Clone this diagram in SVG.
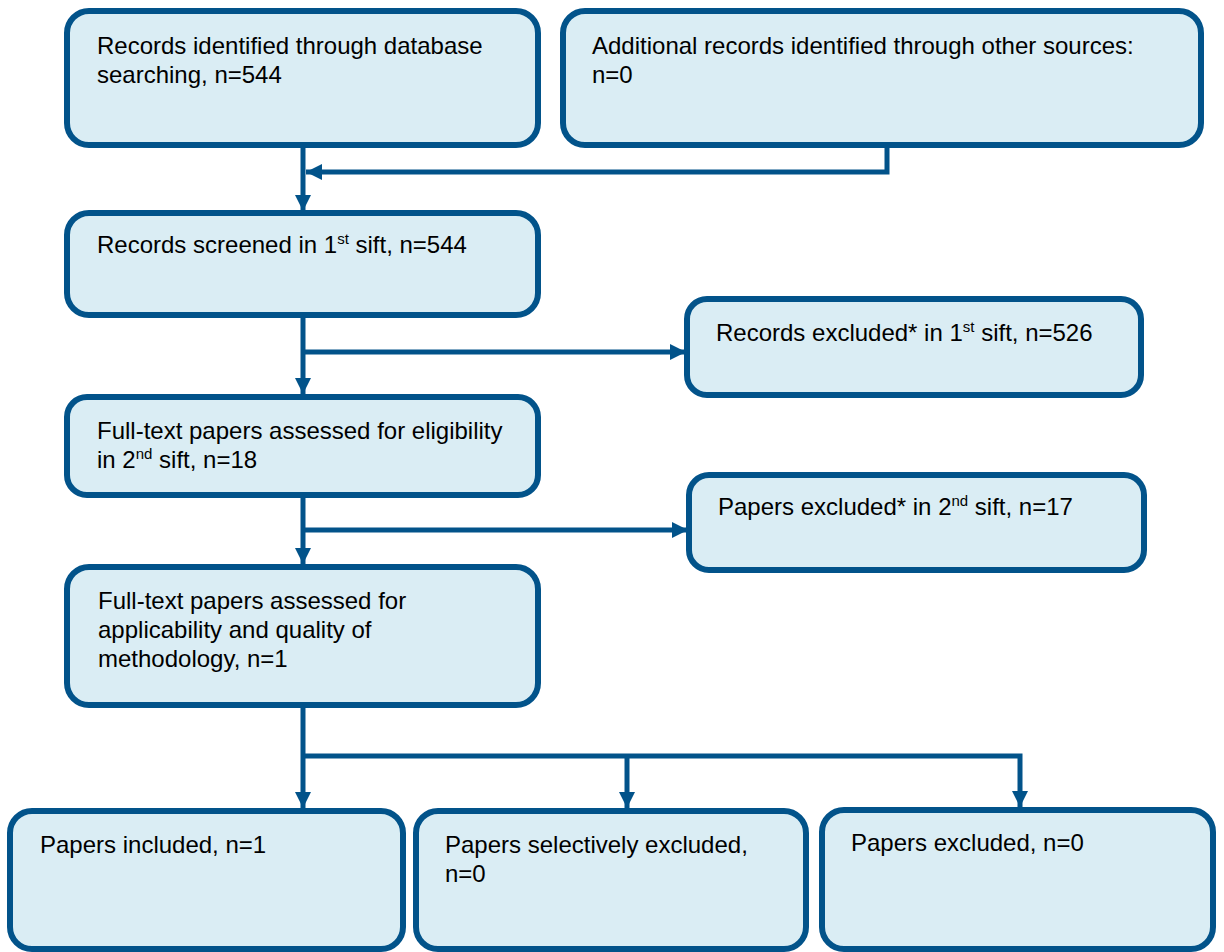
<svg xmlns="http://www.w3.org/2000/svg" width="1224" height="952" viewBox="0 0 1224 952">
<style>
.box{fill:#DAEDF4;stroke:#02538A;stroke-width:6}
.t{font-family:"Liberation Sans",Arial,sans-serif;font-size:24px;fill:#000}
.sup{font-size:15px}
.c{fill:none;stroke:#02538A;stroke-width:5}
</style>
<defs>
<marker id="ah" markerUnits="userSpaceOnUse" markerWidth="18" markerHeight="18" refX="16" refY="9" orient="auto">
<path d="M0,1 L16,9 L0,17 Z" fill="#02538A"/>
</marker>
</defs>
<rect width="1224" height="952" fill="#fff"/>
<g id="connectors">
<path class="c" d="M303,146 V211" marker-end="url(#ah)"/>
<path class="c" d="M887,146 V172 H306" marker-end="url(#ah)"/>
<path class="c" d="M303,316 V394" marker-end="url(#ah)"/>
<path class="c" d="M303,352 H686" marker-end="url(#ah)"/>
<path class="c" d="M303,496 V564" marker-end="url(#ah)"/>
<path class="c" d="M303,530 H688" marker-end="url(#ah)"/>
<path class="c" d="M303,706 V808" marker-end="url(#ah)"/>
<path class="c" d="M303,756 H1020 V807" marker-end="url(#ah)"/>
<path class="c" d="M627,756 V808" marker-end="url(#ah)"/>
</g>
<g id="n1">
<rect class="box" x="67" y="11" width="471" height="134" rx="22"/>
<text class="t" x="97" y="54">Records identified through database</text>
<text class="t" x="97" y="83">searching, n=544</text>
</g>
<g id="n2">
<rect class="box" x="563" y="11" width="638" height="134" rx="22"/>
<text class="t" x="592" y="54">Additional records identified through other sources:</text>
<text class="t" x="592" y="83">n=0</text>
</g>
<g id="n3">
<rect class="box" x="67" y="213" width="471" height="102" rx="22"/>
<text class="t" x="97" y="253">Records screened in 1<tspan class="sup" dy="-9">st</tspan><tspan dy="9"> sift, n=544</tspan></text>
</g>
<g id="n4">
<rect class="box" x="687" y="299" width="454" height="96" rx="20"/>
<text class="t" x="716" y="341">Records excluded* in 1<tspan class="sup" dy="-9">st</tspan><tspan dy="9"> sift, n=526</tspan></text>
</g>
<g id="n5">
<rect class="box" x="67" y="397" width="471" height="98" rx="20"/>
<text class="t" x="97" y="439">Full-text papers assessed for eligibility</text>
<text class="t" x="97" y="468">in 2<tspan class="sup" dy="-9">nd</tspan><tspan dy="9"> sift, n=18</tspan></text>
</g>
<g id="n6">
<rect class="box" x="689" y="475" width="455" height="95" rx="20"/>
<text class="t" x="718" y="515">Papers excluded* in 2<tspan class="sup" dy="-9">nd</tspan><tspan dy="9"> sift, n=17</tspan></text>
</g>
<g id="n7">
<rect class="box" x="67" y="567" width="471" height="138" rx="22"/>
<text class="t" x="98" y="609">Full-text papers assessed for</text>
<text class="t" x="98" y="638">applicability and quality of</text>
<text class="t" x="98" y="667">methodology, n=1</text>
</g>
<g id="n8">
<rect class="box" x="10" y="811" width="393" height="138" rx="22"/>
<text class="t" x="40" y="853">Papers included, n=1</text>
</g>
<g id="n9">
<rect class="box" x="416" y="811" width="390" height="138" rx="22"/>
<text class="t" x="445" y="853">Papers selectively excluded,</text>
<text class="t" x="445" y="882">n=0</text>
</g>
<g id="n10">
<rect class="box" x="822" y="810" width="391" height="139" rx="22"/>
<text class="t" x="851" y="851">Papers excluded, n=0</text>
</g>
</svg>
